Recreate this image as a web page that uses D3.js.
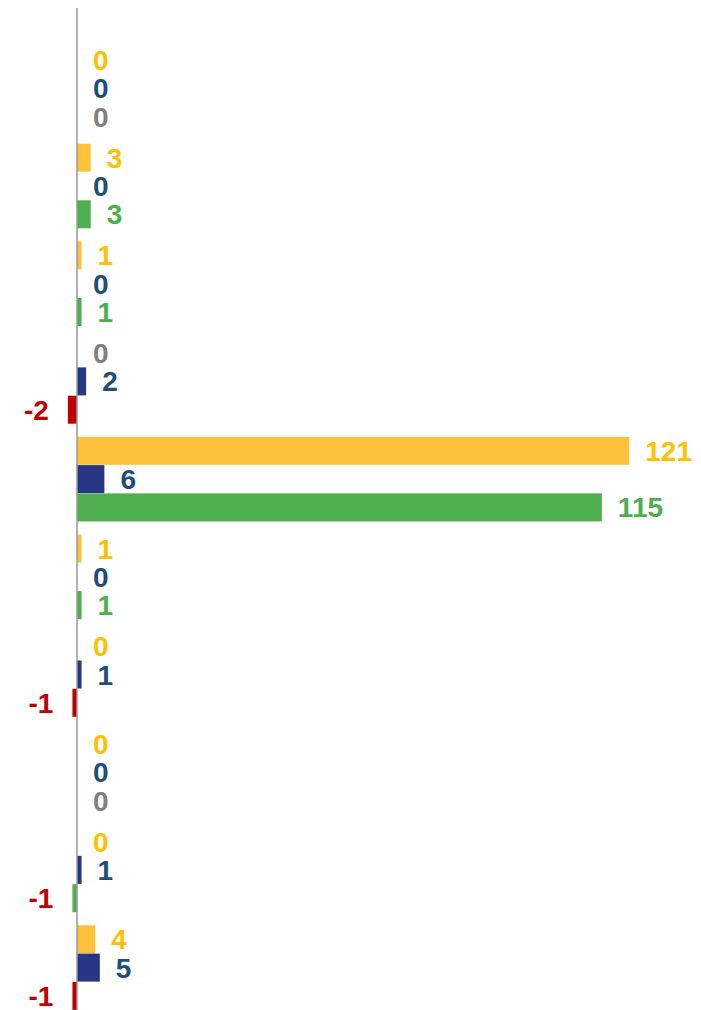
<!DOCTYPE html>
<html>
<head>
<meta charset="utf-8">
<script src="https://cdn.jsdelivr.net/npm/d3@7"></script>
<style>
  html, body { margin: 0; padding: 0; background: #ffffff; }
  svg { display: block; }
</style>
</head>
<body>
<div id="chart"></div>
<script>
// ---- data ----
const groups = ["G1", "G2", "G3", "G4", "G5", "G6", "G7", "G8", "G9", "G10"];
const seriesNames = ["A", "B", "C"];
// null = missing value (shown as grey "0")
const seriesA = [0, 3, 1, null, 121, 1, 0, 0, 0, 4];
const seriesB = [0, 0, 0, 2, 6, 0, 1, 0, 1, 5];
const seriesC = [null, 3, 1, -2, 115, 1, -1, null, -1, -1];
// groups whose third bar is flagged as a loss
const lossFlags = [false, false, false, true, false, false, true, false, false, true];

// ---- style ----
const W = 701, H = 1010;
const barColors = { A: "#FFC13B", B: "#283785", C: "#4EAE50", loss: "#C00000" };
const labelColors = { A: "#FFC000", B: "#1F4E79", C: "#4CAF50", neg: "#C00000", missing: "#808080" };

const svg = d3.select("#chart").append("svg").attr("width", W).attr("height", H);

const x = d3.scaleLinear().domain([-17, 137]).range([77 - 17 * 4.564, 77 + 137 * 4.564]);
const y = d3.scaleBand().domain(groups).range([39.45, 1016.45]).paddingInner(0.134).paddingOuter(0.067);
const ySub = d3.scaleBand().domain(seriesNames).range([0, y.bandwidth()]).paddingInner(0.01);

const rows = [];
groups.forEach((g, i) => {
  rows.push({ g, i, s: "A", v: seriesA[i] });
  rows.push({ g, i, s: "B", v: seriesB[i] });
  rows.push({ g, i, s: "C", v: seriesC[i] });
});

const gBars = svg.append("g");
gBars.selectAll("rect")
  .data(rows.filter(d => d.v !== null && d.v !== 0))
  .join("rect")
  .attr("x", d => x(Math.min(0, d.v)))
  .attr("width", d => Math.abs(x(d.v) - x(0)))
  .attr("y", d => y(d.g) + ySub(d.s))
  .attr("height", ySub.bandwidth())
  .attr("fill", d => (d.s === "C" && lossFlags[d.i]) ? barColors.loss : barColors[d.s]);

// axis line
svg.append("line")
  .attr("x1", x(0)).attr("x2", x(0))
  .attr("y1", 8).attr("y2", H)
  .attr("stroke", "#9a9a9a").attr("stroke-width", 1.5);

// labels
svg.append("g").selectAll("text")
  .data(rows)
  .join("text")
  .attr("x", d => (d.v !== null && d.v < 0) ? x(d.v) - 19 : x(Math.max(0, d.v || 0)) + 16)
  .attr("y", d => y(d.g) + ySub(d.s) + ySub.bandwidth() / 2)
  .attr("dy", "0.36em")
  .attr("text-anchor", d => (d.v !== null && d.v < 0) ? "end" : "start")
  .attr("font-family", "'Liberation Sans', Arial, sans-serif")
  .attr("font-weight", "bold")
  .attr("font-size", "28px")
  .attr("fill", d => d.v === null ? labelColors.missing : (d.v < 0 ? labelColors.neg : labelColors[d.s]))
  .text(d => d.v === null ? "0" : d.v);
</script>
</body>
</html>
